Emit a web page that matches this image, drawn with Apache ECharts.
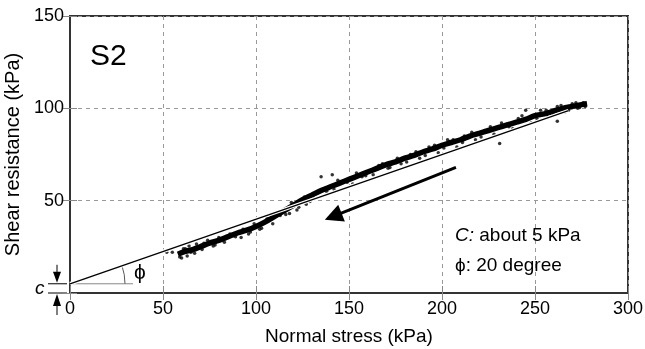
<!DOCTYPE html>
<html><head><meta charset="utf-8">
<script src="https://cdn.jsdelivr.net/npm/echarts@6/dist/echarts.min.js"></script>
<style>html,body{margin:0;padding:0;background:#fff}#c{width:645px;height:349px}</style>
</head><body><div id="c"></div>
<script>
var bandX = [58,62,66,70,75,80,85,90,95,100,105,110,115,120,125,130,135,140,145,150,155,160,165,170,175,180,185,190,195,200,205,210,215,220,225,230,235,240,245,250,255,260,265,270,275,278];
var bandY = [21,22.5,23.5,25,27,28.5,30.5,32.5,34,36,38.5,41.5,44.5,47.5,50.5,53,55.5,57.5,59.5,61.5,63.5,65.5,67.5,69.5,71,73,74.5,76.5,78,80,81.5,83,85,86.5,88,89.5,91,92.5,94,96,97,98.5,100,101,102,102.5];
// Scattered individual points
var ptsX = [52,55,60,61,63,64,67,72,78,82,88,92,97,103,108,113,118,122,127,131,136,138,142,147,152,157,161,163,168,172,178,183,188,193,198,203,208,212,218,223,228,232,238,243,248,253,257,262,266,270,273,276,277,135,141,245,231,262,
            59,62,65,68,71,74,77,80,83,86,89,93,96,99,102,106,109,112,116,119,123,126,129,133,139,144,149,154,159,166,171,176,181,186,191,196,201,206,211,216,221,226,236,241,251,256,260,264,268,272,274];
var ptsY = [22,22,19,24,20,25.5,21.5,27,26,29,31,30,33,35,40,42,43,45,48,51,56,55,56,60,59,63,66,64,70,68,70,75,73,79,76,83,79,85,83,88,86,92,89,96,92,99,95,101,98,102.5,100,103,101,63,64,99,81,93,
            19.5,24,22,26.5,23.5,28.5,25.5,30,27.5,32,30.5,34.5,32,37.5,34.5,40.5,37.5,43,42.5,49,46.5,52,49.5,55,56.5,61,60,65,63.5,69,67.5,73,71,76.5,74.5,80,78.5,83,81.5,87,84.5,90,90,94.5,94.5,99,96.5,101.5,99,103,100.5];
// Fitted strength line: c = 5 kPa, phi ~ 20 degree
var fitX = [0,268];
var fitY = [5,98.8];
// Arrow (unloading direction)
var arrowX = [207.5,141.5];
var arrowY = [68,41.5];
var xTicks = [0,50,100,150,200,250,300];
var yTicks = [0,50,100,150];

var chart = echarts.init(document.getElementById('c'));
var F = '"Liberation Sans", Arial, sans-serif';
function zip(a,b){return a.map(function(v,i){return [v,b[i]];});}
var axisLbl = {color:'#000',fontSize:18,fontFamily:F};
var tick = {inside:true,length:7,lineStyle:{color:'#888'}};
chart.setOption({
  animation:false,
  grid:{left:70,right:17,top:16,bottom:56,containLabel:false,outerBoundsMode:'none',show:true,borderColor:'#333',borderWidth:2},
  xAxis:[{type:'value',min:xTicks[0],max:xTicks[xTicks.length-1],interval:50,
    name:'Normal stress (kPa)',nameLocation:'middle',nameGap:34,nameTextStyle:{color:'#000',fontSize:19,fontFamily:F},
    axisLine:{lineStyle:{color:'#333',width:2}},axisTick:tick,
    axisLabel:Object.assign({margin:7},axisLbl),
    splitLine:{lineStyle:{color:'#999',type:[4,4],width:1}}},
   {type:'value',position:'top',min:0,max:300,interval:50,axisLine:{lineStyle:{color:'#333',width:2}},axisTick:tick,axisLabel:{show:false},splitLine:{show:false}}],
  yAxis:[{type:'value',min:yTicks[0],max:yTicks[yTicks.length-1],interval:50,
    name:'Shear resistance (kPa)',nameLocation:'middle',nameGap:40,nameRotate:90,nameTextStyle:{color:'#000',fontSize:20,fontFamily:F},
    axisLine:{lineStyle:{color:'#333',width:2}},axisTick:tick,
    axisLabel:Object.assign({margin:6,formatter:function(v){return v===0?'':String(v);}},axisLbl),
    splitLine:{lineStyle:{color:'#999',type:[4,4],width:1}}},
   {type:'value',position:'right',min:0,max:150,interval:50,axisLine:{lineStyle:{color:'#333',width:2}},axisTick:tick,axisLabel:{show:false},splitLine:{show:false}}],
  series:[
    {type:'line',data:zip(bandX,bandY),smooth:0.3,symbol:'none',lineStyle:{color:'#000',width:5.5},z:2},
    {type:'scatter',data:zip(ptsX,ptsY),symbolSize:3.5,itemStyle:{color:'#000'},z:3},
    {type:'line',data:zip(fitX,fitY),symbol:'none',lineStyle:{color:'#fff',width:3.5},z:4},
    {type:'line',data:zip(fitX,fitY),symbol:'none',lineStyle:{color:'#000',width:1.3},z:5},
    {type:'lines',coordinateSystem:'cartesian2d',z:6,symbol:['none','triangle'],symbolSize:18,
      lineStyle:{color:'#000',width:3,opacity:1},
      data:[{coords:zip(arrowX,arrowY)}]}
  ]
});
// annotations positioned from data coordinates
var o = chart.convertToPixel({gridIndex:0},[fitX[0],fitY[0]]);
var e = chart.convertToPixel({gridIndex:0},[fitX[1],fitY[1]]);
var ang = Math.atan2(e[1]-o[1], e[0]-o[0]);
var base = chart.convertToPixel({gridIndex:0},[0,0]);
var g = [
  {type:'text',left:90,top:42,style:{text:'S2',font:'30px '+F,fill:'#000'}},
  {type:'text',left:455,top:226,style:{text:'{i|C:} about 5 kPa',rich:{i:{fontStyle:'italic',fontSize:19,fontFamily:F}},font:'19px '+F,fill:'#000'}},
  {type:'text',left:455,top:256,style:{text:'\u03D5: 20 degree',font:'19px '+F,fill:'#000'}},
  {type:'line',shape:{x1:o[0],y1:o[1],x2:o[0]+63,y2:o[1]},style:{stroke:'#888',lineWidth:1}},
  {type:'arc',shape:{cx:o[0],cy:o[1],r:55,startAngle:ang,endAngle:0,clockwise:true},style:{stroke:'#555',lineWidth:1,fill:null}},
  {type:'text',x:o[0]+64,y:o[1]-11,style:{text:'\u03D5',font:'21px '+F,fill:'#000',verticalAlign:'middle'}},
  {type:'text',x:35,y:o[1]+5,style:{text:'c',font:'italic 19px '+F,fill:'#000',verticalAlign:'middle'}},
  {type:'line',shape:{x1:48,y1:o[1],x2:67,y2:o[1]},style:{stroke:'#000',lineWidth:1}},
  {type:'line',shape:{x1:48,y1:base[1],x2:67,y2:base[1]},style:{stroke:'#000',lineWidth:1}},
  {type:'line',shape:{x1:57,y1:o[1]-19,x2:57,y2:o[1]-8},style:{stroke:'#000',lineWidth:1}},
  {type:'polygon',shape:{points:[[53,o[1]-12],[61,o[1]-12],[57,o[1]-1]]},style:{fill:'#000'}},
  {type:'line',shape:{x1:57,y1:base[1]+8,x2:57,y2:base[1]+22},style:{stroke:'#000',lineWidth:1}},
  {type:'polygon',shape:{points:[[53,base[1]+13],[61,base[1]+13],[57,base[1]+1]]},style:{fill:'#000'}}
];
chart.setOption({graphic:g});
</script></body></html>
